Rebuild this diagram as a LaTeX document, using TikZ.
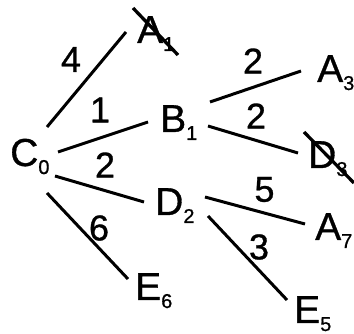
\documentclass[tikz,border=0pt]{standalone}
\usepackage{fontspec}
\setmainfont{Liberation Sans}
\newfontfamily\heavyfont[FakeBold=0.8]{Liberation Sans}
\usetikzlibrary{calc}
\newcommand{\vlab}[2]{#1\lower8pt\hbox{\fontsize{20}{20}\selectfont #2}}
\begin{document}
\begin{tikzpicture}[x=1pt,y=-1pt,
  vtx/.style={inner sep=0pt, anchor=base west, font=\heavyfont\fontsize{39}{39}\selectfont},
  wt/.style={inner sep=0pt, font=\heavyfont\fontsize{36}{36}\selectfont},
  conn/.style={line width=3pt},
  strike/.style={line width=3.3pt}]
\useasboundingbox (0,0) rectangle (354,334);
% vertices
\node[vtx] (C0) at (10,166) {\vlab{C}{0}};
\node[vtx] (A1) at (137,43) {\vlab{A}{1}};
\node[vtx] (B1) at (160,132) {\vlab{B}{1}};
\node[vtx] (D2) at (155,215) {\vlab{D}{2}};
\node[vtx] (E6) at (135,300) {\vlab{E}{6}};
\node[vtx] (A3) at (317,82) {\vlab{A}{3}};
\node[vtx] (D3) at (308,168) {\vlab{D}{3}};
\node[vtx] (A7) at (315,240) {\vlab{A}{7}};
\node[vtx] (E5) at (294,323) {\vlab{E}{5}};
% weights
\node[wt] (w4) at (71,59.5) {4};
\node[wt] (w1) at (100,110) {1};
\node[wt] (w2a) at (105,165) {2};
\node[wt] (w6) at (99,228) {6};
\node[wt] (w2b) at (253,61) {2};
\node[wt] (w2c) at (256,116) {2};
\node[wt] (w5) at (264.5,189.5) {5};
\node[wt] (w3) at (259,247) {3};
% connectors
\draw[conn] ($(C0.base west)+(37,-39)$) -- ($(A1.base west)+(-11,-11)$);
\draw[conn] ($(C0.base west)+(48,-14)$) -- ($(B1.base west)+(-12,-10)$);
\draw[conn] ($(C0.base west)+(45,10)$) -- ($(D2.base west)+(-11,-13)$);
\draw[conn] ($(C0.base west)+(37,27)$) -- ($(E6.base west)+(-7,-21)$);
\draw[conn] ($(B1.base west)+(50,-30)$) -- ($(A3.base west)+(-16,-11)$);
\draw[conn] ($(B1.base west)+(48,-6)$) -- ($(D3.base west)+(-10,-15)$);
\draw[conn] ($(D2.base west)+(50,-18)$) -- ($(A7.base west)+(-10,-16)$);
\draw[conn] ($(D2.base west)+(53,1)$) -- ($(E5.base west)+(-7,-23)$);
% strike-outs
\draw[strike] ($(A1.base west)+(-4,-35)$) -- ($(A1.base west)+(41,12)$);
\draw[strike] ($(D3.base west)+(-4,-36)$) -- ($(D3.base west)+(46,15)$);
\end{tikzpicture}
\end{document}
